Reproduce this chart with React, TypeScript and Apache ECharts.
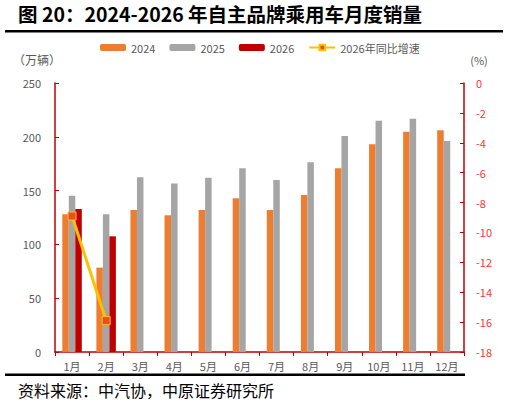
import React, { useEffect, useRef } from "react";
import * as echarts from "echarts";

const months = ["1月", "2月", "3月", "4月", "5月", "6月", "7月", "8月", "9月", "10月", "11月", "12月"];
const sales2024 = [128, 78.4, 132, 127, 132, 142.8, 132, 145.9, 170.7, 193, 204.7, 206];
const sales2025 = [145.3, 128, 162.3, 156.7, 162, 170.7, 159.9, 176.3, 200.7, 215, 216.8, 196];
const sales2026 = [132.9, 107.5, null, null, null, null, null, null, null, null, null, null];
const growth2026 = [-8.9, -15.9, null, null, null, null, null, null, null, null, null, null];

const FONT = '"Noto Sans CJK SC", "Noto Sans", sans-serif';
const RED = "#C00000";

export default function App() {
  const ref = useRef<HTMLDivElement>(null);
  useEffect(() => {
    if (!ref.current) return;
    const chart = echarts.init(ref.current, undefined, { renderer: "svg" });
    chart.setOption({
      animation: false,
      backgroundColor: "#ffffff",
      textStyle: { fontFamily: FONT },
      grid: { left: 55, right: 47, top: 83, bottom: 57 },
      legend: {
        top: 37,
        left: 95,
        itemWidth: 26,
        itemHeight: 7,
        itemGap: 14,
        textStyle: { color: "#595959", fontSize: 11, fontFamily: FONT },
        data: ["2024", "2025", "2026", "2026年同比增速"],
      },
      xAxis: {
        type: "category",
        data: months,
        axisLine: { lineStyle: { color: RED, width: 1.5 } },
        axisTick: { show: true, length: 4, lineStyle: { color: RED } },
        axisLabel: { color: "#595959", fontSize: 11, margin: 8 },
      },
      yAxis: [
        {
          type: "value",
          min: 0,
          max: 250,
          interval: 50,
          name: "（万辆）",
          nameLocation: "end",
          nameGap: 18,
          nameTextStyle: { color: "#595959", fontSize: 12, align: "center", padding: [0, 0, 0, -36] },
          axisLine: { show: true, lineStyle: { color: RED, width: 1.5 } },
          axisTick: { show: true, inside: true, length: 4, lineStyle: { color: RED } },
          axisLabel: { color: "#595959", fontSize: 11, margin: 14 },
          splitLine: { show: false },
        },
        {
          type: "value",
          min: -18,
          max: 0,
          interval: 2,
          name: "(%)",
          nameLocation: "end",
          nameGap: 18,
          nameTextStyle: { color: "#595959", fontSize: 11, padding: [0, 0, 0, 30] },
          position: "right",
          axisLine: { show: true, lineStyle: { color: RED, width: 1.5 } },
          axisTick: { show: true, inside: true, length: 4, lineStyle: { color: RED } },
          axisLabel: { color: "#FF3333", fontSize: 11, margin: 12 },
          splitLine: { show: false },
        },
      ],
      series: [
        { name: "2024", type: "bar", data: sales2024, barWidth: 6.5, barGap: "0%", itemStyle: { color: "#ED7D31" } },
        { name: "2025", type: "bar", data: sales2025, barWidth: 6.5, barGap: "0%", itemStyle: { color: "#A5A5A5" } },
        { name: "2026", type: "bar", data: sales2026, barWidth: 6.5, barGap: "0%", itemStyle: { color: RED } },
        {
          name: "2026年同比增速",
          type: "line",
          yAxisIndex: 1,
          data: growth2026,
          symbol: "rect",
          symbolSize: 8,
          lineStyle: { color: "#FFC000", width: 3 },
          itemStyle: { color: "#E0502A", borderColor: "#FFC000", borderWidth: 1 },
        },
      ],
      graphic: [
        {
          type: "text",
          left: 18,
          top: 4,
          style: { text: "图 20：2024-2026 年自主品牌乘用车月度销量", font: `bold 19.5px ${FONT}`, fill: "#000" },
        },
        { type: "rect", shape: { x: 5, y: 30, width: 498, height: 2.5 }, style: { fill: "#000" } },
        { type: "rect", shape: { x: 5, y: 373.5, width: 460, height: 2.5 }, style: { fill: "#000" } },
        {
          type: "text",
          left: 18,
          top: 382,
          style: { text: "资料来源：中汽协，中原证券研究所", font: `16px ${FONT}`, fill: "#000" },
        },
      ],
    });
    return () => chart.dispose();
  }, []);
  return <div ref={ref} style={{ position: "fixed", left: 0, top: 0, width: 511, height: 409 }} />;
}
